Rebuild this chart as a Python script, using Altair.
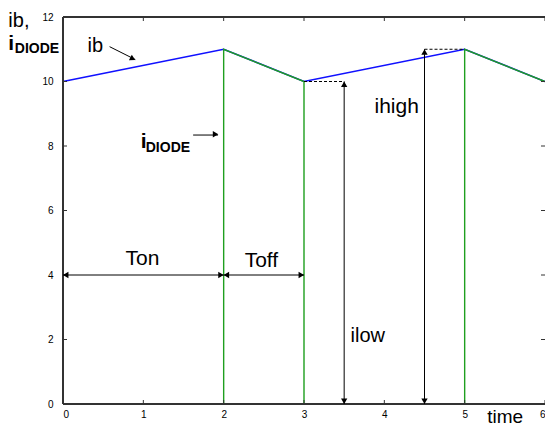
import altair as alt
import pandas as pd

# ---------------- data ----------------
TIME = [0, 2, 3, 5, 6]
IB = [10, 11, 10, 11, 10]

DIODE_T = [2, 2, 3, 3, 5, 5, 6]
DIODE_I = [0, 11, 10, 0, 0, 11, 10]
DIODE_SEG = [1, 1, 1, 1, 2, 2, 2]

X_TICKS = [0, 1, 2, 3, 4, 5, 6]
Y_TICKS = [0, 2, 4, 6, 8, 10, 12]

# horizontal double arrows (Ton, Toff)
H_X1 = [0, 2]
H_X2 = [2, 3]
H_Y = [4, 4]

# vertical double arrows (ilow, ihigh)
V_X = [3.5, 4.5]
V_Y1 = [0, 0]
V_Y2 = [10, 11]

# dashed connectors
D_X1 = [3, 4.5]
D_X2 = [3.5, 5]
D_Y = [10, 11]

# pointer arrows (ib, i_DIODE)
P_X1 = [0.58, 1.62]
P_Y1 = [11.08, 8.34]
P_X2 = [0.90, 1.93]
P_Y2 = [10.68, 8.34]
P_ANGLE = [27, 0]

# labels
BIG_TEXT = ["ib", "ilow", "ib,"]
BIG_X = [0.306, 3.58, -0.68]
BIG_Y = [10.91, 1.92, 11.69]

TIME_TEXT = ["time"]
TIME_X = [5.28]
TIME_Y = [-0.6]

MID_TEXT = ["Ton", "Toff"]
MID_X = [0.99, 2.47]
MID_Y = [4.31, 4.25]

IHIGH_TEXT = ["ihigh"]
IHIGH_X = [4.43]
IHIGH_Y = [9.02]

I_TEXT = ["i", "i"]
I_X = [-0.68, 0.967]
I_Y = [10.98, 7.94]

SUB_TEXT = ["DIODE", "DIODE"]
SUB_X = [-0.60, 1.03]
SUB_Y = [10.88, 7.81]

W, H = 482, 387
FONT = "Liberation Sans"

xs = alt.Scale(domain=[0, 6], nice=False, zero=False)
ys = alt.Scale(domain=[0, 12], nice=False, zero=False)

xaxis = alt.Axis(values=X_TICKS, ticks=False, domain=False, grid=False, title=None,
                 labelFont=FONT, labelFontSize=10, labelColor="black", labelPadding=5,
                 format="d")
yaxis = alt.Axis(values=Y_TICKS, ticks=False, domain=False, grid=False, title=None,
                 labelFont=FONT, labelFontSize=10, labelColor="black", labelPadding=10,
                 format="d")


def X(f):
    return alt.X(f, type="quantitative", scale=xs, axis=xaxis, title=None)


def Y(f):
    return alt.Y(f, type="quantitative", scale=ys, axis=yaxis, title=None)


ib_df = pd.DataFrame({"t": TIME, "i": IB})
d_df = pd.DataFrame({"t": DIODE_T, "i": DIODE_I, "seg": DIODE_SEG,
                     "ord": list(range(len(DIODE_T)))})
xt_df = pd.DataFrame({"v": X_TICKS})
yt_df = pd.DataFrame({"v": Y_TICKS})
h_df = pd.DataFrame({"x1": H_X1, "x2": H_X2, "y": H_Y})
v_df = pd.DataFrame({"x": V_X, "y1": V_Y1, "y2": V_Y2})
dash_df = pd.DataFrame({"x1": D_X1, "x2": D_X2, "y": D_Y})
p_df = pd.DataFrame({"x1": P_X1, "y1": P_Y1, "x2": P_X2, "y2": P_Y2, "a": P_ANGLE})

ib_line = alt.Chart(ib_df).mark_line(color="#1010ff", strokeWidth=1.6).encode(
    x=X("t"), y=Y("i"))

diode = alt.Chart(d_df).mark_line(color="#1f9f1f", strokeWidth=1.4).encode(
    x=X("t"), y=Y("i"), detail="seg:N", order="ord:Q")

# frame (left, top, bottom; right side runs off the page)
frame_l = alt.Chart(yt_df).mark_rule(color="#333", strokeWidth=1).encode(
    x=alt.value(0), y=alt.value(0), y2=alt.value(H))
frame_t = alt.Chart(yt_df).mark_rule(color="#333", strokeWidth=1).encode(
    x=alt.value(0), x2=alt.value(W), y=alt.value(0))
frame_b = alt.Chart(yt_df).mark_rule(color="#333", strokeWidth=1).encode(
    x=alt.value(0), x2=alt.value(W), y=alt.value(H))

# inward ticks
tb = alt.Chart(xt_df).mark_rule(color="#333", strokeWidth=1).encode(
    x=X("v"), y=alt.value(H), y2=alt.value(H - 4))
tt = alt.Chart(xt_df).mark_rule(color="#333", strokeWidth=1).encode(
    x=X("v"), y=alt.value(0), y2=alt.value(4))
tl = alt.Chart(yt_df).mark_rule(color="#333", strokeWidth=1).encode(
    y=Y("v"), x=alt.value(0), x2=alt.value(4))
tr = alt.Chart(yt_df).mark_rule(color="#333", strokeWidth=1).encode(
    y=Y("v"), x=alt.value(W), x2=alt.value(W - 4))

# arrows
h_shaft = alt.Chart(h_df).mark_rule(color="black", strokeWidth=1).encode(
    x=X("x1"), x2="x2", y=Y("y"))
h_left = alt.Chart(h_df).mark_point(shape="triangle-left", filled=True, color="black",
                                    size=40, opacity=1, xOffset=2.7).encode(
    x=X("x1"), y=Y("y"))
h_right = alt.Chart(h_df).mark_point(shape="triangle-right", filled=True, color="black",
                                     size=40, opacity=1, xOffset=-2.7).encode(
    x=X("x2"), y=Y("y"))

v_shaft = alt.Chart(v_df).mark_rule(color="black", strokeWidth=1).encode(
    x=X("x"), y=Y("y1"), y2="y2")
v_down = alt.Chart(v_df).mark_point(shape="triangle-down", filled=True, color="black",
                                    size=40, opacity=1, yOffset=-2.7).encode(
    x=X("x"), y=Y("y1"))
v_up = alt.Chart(v_df).mark_point(shape="triangle-up", filled=True, color="black",
                                  size=40, opacity=1, yOffset=2.7).encode(
    x=X("x"), y=Y("y2"))

dashes = alt.Chart(dash_df).mark_rule(color="black", strokeWidth=1, strokeDash=[3, 2]).encode(
    x=X("x1"), x2="x2", y=Y("y"))

p_shaft = alt.Chart(p_df).mark_rule(color="black", strokeWidth=1).encode(
    x=X("x1"), y=Y("y1"), x2="x2", y2="y2")
p_head = alt.Chart(p_df).mark_point(shape="triangle-right", filled=True, color="black",
                                    size=40, opacity=1, xOffset=-2.5, yOffset=-0.8).encode(
    x=X("x2"), y=Y("y2"), angle=alt.Angle("a:Q", scale=None))


def text_layer(texts, xs_, ys_, size, weight="normal", align="left"):
    df = pd.DataFrame({"x": xs_, "y": ys_, "s": texts})
    return alt.Chart(df).mark_text(font=FONT, fontSize=size, fontWeight=weight,
                                   align=align, baseline="alphabetic", color="black").encode(
        x=X("x"), y=Y("y"), text="s:N")


t_big = text_layer(BIG_TEXT, BIG_X, BIG_Y, 20)
t_time = text_layer(TIME_TEXT, TIME_X, TIME_Y, 19)
t_mid = text_layer(MID_TEXT, MID_X, MID_Y, 21, align="center")
t_ihigh = text_layer(IHIGH_TEXT, IHIGH_X, IHIGH_Y, 21, align="right")
t_i = text_layer(I_TEXT, I_X, I_Y, 21, weight="bold")
t_sub = text_layer(SUB_TEXT, SUB_X, SUB_Y, 14, weight="bold")

chart = alt.layer(
    ib_line, diode, frame_l, frame_t, frame_b, tb, tt, tl, tr,
    h_shaft, h_left, h_right, v_shaft, v_down, v_up, dashes,
    p_shaft, p_head,
    t_big, t_time, t_mid, t_ihigh, t_i, t_sub,
).properties(
    width=W, height=H,
    autosize=alt.AutoSizeParams(type="none"),
    padding={"left": 55, "top": 9, "right": 0, "bottom": 26},
    background="white",
).configure_view(strokeWidth=0, stroke=None)

chart.save("out.html", embed_options={"renderer": "svg", "actions": False})
